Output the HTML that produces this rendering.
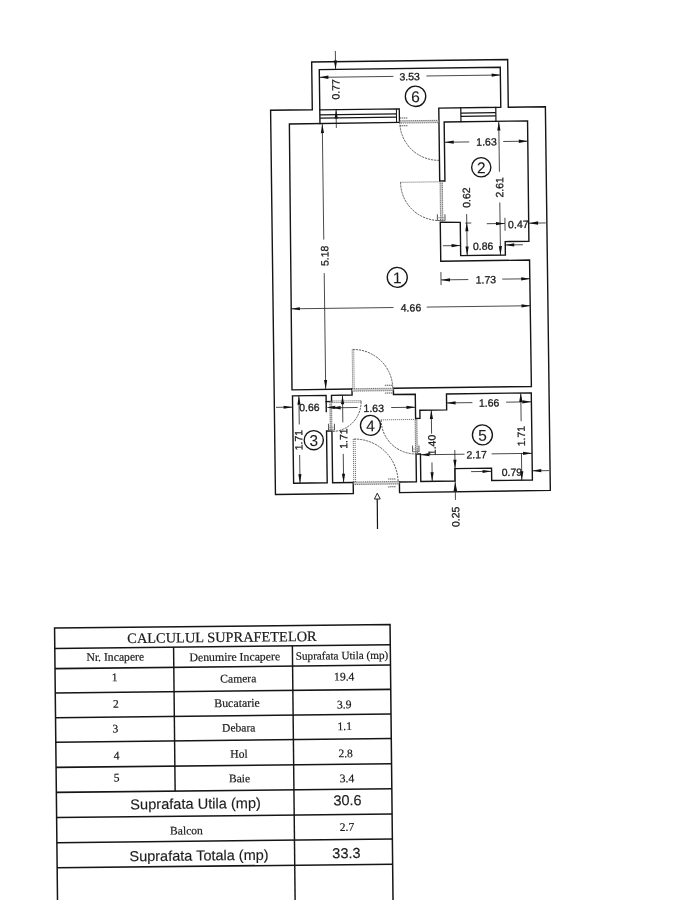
<!DOCTYPE html>
<html><head><meta charset="utf-8"><title>Plan</title>
<style>
html,body{margin:0;padding:0;background:#fff;}
body{width:681px;height:900px;overflow:hidden;position:relative;font-family:"Liberation Sans",sans-serif;}
svg{position:absolute;left:0;top:0;display:block;will-change:transform;transform:translateZ(0);}
text{white-space:pre;}
</style></head><body>
<svg width="681" height="900" viewBox="0 0 681 900">
<rect x="0" y="0" width="681" height="900" fill="#ffffff"/>
<g transform="rotate(-0.74 410 280)">
<path d="M350.6,481.8 L350.6,492.8 L272.7,492.8 L272.8,108.5 L314.5,108.5 L314.5,60.8 L510.5,60.8 L510.5,108.5 L547.6,108.5 L547.6,492.2 L396.8,492.5 L396.8,481.8" fill="none" stroke="#151515" stroke-width="1.4" stroke-linejoin="miter" stroke-linecap="square" />
<path d="M350.6,388.3 L290.6,388.3 L291.4,122.4 L401.5,122.3" fill="none" stroke="#151515" stroke-width="1.4" stroke-linejoin="miter" stroke-linecap="square" />
<path d="M322.0,122.3 L322.0,68.5 L503.0,68.5 L503.0,108.5 L441.0,108.5 L441.0,181.4 L446.2,181.4 L446.2,122.4 L529.6,122.4 L529.4,242.8 L505.7,242.8 L505.7,256.3 L461.0,256.3 L461.0,223.0 L441.0,222.5 L441.0,261.6 L529.8,261.6 L530.0,388.0 L392.0,388.0 L392.0,394.3 L413.8,394.3 L413.8,418.6 L418.2,418.4 L418.2,410.3 L445.0,410.3 L445.0,394.4 L529.8,394.4 L529.8,481.6 L489.1,481.6 L489.1,469.2 L452.4,469.2 L452.4,481.6 L418.2,481.6 L418.2,454.0 L413.8,454.0 L413.8,481.8 L396.8,481.8" fill="none" stroke="#151515" stroke-width="1.4" stroke-linejoin="miter" stroke-linecap="square" />
<path d="M322.0,108.7 L401.5,108.7 L401.5,122.3" fill="none" stroke="#151515" stroke-width="1.3" stroke-linejoin="miter" stroke-linecap="square" />
<line x1="322.0" y1="113.8" x2="399.0" y2="113.8" stroke="#151515" stroke-width="1.3" />
<line x1="322.0" y1="117.0" x2="399.0" y2="117.0" stroke="#151515" stroke-width="1.3" />
<line x1="398.6" y1="108.5" x2="398.6" y2="122.0" stroke="#151515" stroke-width="1.0" />
<path d="M463.0,108.5 L463.0,122.4" fill="none" stroke="#151515" stroke-width="1.2" stroke-linejoin="miter" stroke-linecap="square" />
<path d="M498.0,108.5 L498.0,122.4" fill="none" stroke="#151515" stroke-width="1.2" stroke-linejoin="miter" stroke-linecap="square" />
<line x1="463.0" y1="113.8" x2="498.0" y2="113.8" stroke="#151515" stroke-width="1.3" />
<line x1="463.0" y1="117.0" x2="498.0" y2="117.0" stroke="#151515" stroke-width="1.3" />
<path d="M330.0,400.5 L324.6,400.5" fill="none" stroke="#151515" stroke-width="1.4" stroke-linejoin="miter" stroke-linecap="square" />
<path d="M324.6,410.5 L324.6,394.3 L291.0,394.3 L291.0,481.7 L324.6,481.7 L324.6,429.9 L330.0,429.9 L330.0,481.8 L350.6,481.8" fill="none" stroke="#151515" stroke-width="1.4" stroke-linejoin="miter" stroke-linecap="square" />
<path d="M330.0,400.5 L330.0,394.3 L350.6,394.3 L350.6,388.0" fill="none" stroke="#151515" stroke-width="1.4" stroke-linejoin="miter" stroke-linecap="square" />
<rect x="401.8" y="120.7" width="39.0" height="2.3" fill="#d0d0d0" stroke="#555" stroke-width="0.8" stroke-dasharray="1.2 0.7"/>
<path d="M401.8,122.0 A38.7,38.7 0 0 0 440.5,160.7" fill="none" stroke="#4a4a4a" stroke-width="0.9" stroke-dasharray="2.2 0.9"/>
<line x1="401.8" y1="182.2" x2="440.5" y2="182.2" stroke="#5c5c5c" stroke-width="0.9" stroke-dasharray="1.1 0.9"/>
<path d="M401.8,182.2 A38.7,38.7 0 0 0 440.5,220.9" fill="none" stroke="#4a4a4a" stroke-width="0.9" stroke-dasharray="2.2 0.9"/>
<rect x="441.3" y="182.0" width="2.3" height="39.8" fill="#d0d0d0" stroke="#555" stroke-width="0.8" stroke-dasharray="1.2 0.7"/>
<line x1="351.3" y1="348.8" x2="351.3" y2="388.0" stroke="#5c5c5c" stroke-width="0.9" stroke-dasharray="1.1 0.9"/>
<line x1="352.8" y1="348.8" x2="352.8" y2="388.0" stroke="#5c5c5c" stroke-width="0.9" stroke-dasharray="1.1 0.9"/>
<path d="M351.8,348.7 A39.6,39.6 0 0 1 391.4,388.3" fill="none" stroke="#4a4a4a" stroke-width="0.9" stroke-dasharray="2.2 0.9"/>
<rect x="350.6" y="388.0" width="41.4" height="2.4" fill="#d0d0d0" stroke="#555" stroke-width="0.8" stroke-dasharray="1.2 0.7"/>
<line x1="330.0" y1="400.0" x2="359.5" y2="400.0" stroke="#5c5c5c" stroke-width="0.9" stroke-dasharray="1.1 0.9"/>
<line x1="330.0" y1="401.6" x2="359.5" y2="401.6" stroke="#5c5c5c" stroke-width="0.9" stroke-dasharray="1.1 0.9"/>
<line x1="359.5" y1="400.0" x2="359.5" y2="401.6" stroke="#5c5c5c" stroke-width="0.9" stroke-dasharray="1.1 0.9"/>
<path d="M359.5,401.0 A29.5,29.5 0 0 1 331.0,430.5" fill="none" stroke="#4a4a4a" stroke-width="0.9" stroke-dasharray="2.2 0.9"/>
<rect x="328.3" y="400.5" width="1.7" height="29.4" fill="#d0d0d0" stroke="#555" stroke-width="0.8" stroke-dasharray="1.2 0.7"/>
<line x1="379.3" y1="419.5" x2="413.8" y2="419.5" stroke="#5c5c5c" stroke-width="0.9" stroke-dasharray="1.1 0.9"/>
<path d="M379.3,419.5 A34.5,34.5 0 0 0 413.8,454.0" fill="none" stroke="#4a4a4a" stroke-width="0.9" stroke-dasharray="2.2 0.9"/>
<rect x="413.3" y="419.5" width="1.8" height="34.3" fill="#d0d0d0" stroke="#555" stroke-width="0.8" stroke-dasharray="1.2 0.7"/>
<line x1="351.2" y1="438.3" x2="351.2" y2="481.8" stroke="#5c5c5c" stroke-width="0.9" stroke-dasharray="1.1 0.9"/>
<line x1="353.0" y1="438.3" x2="353.0" y2="481.8" stroke="#5c5c5c" stroke-width="0.9" stroke-dasharray="1.1 0.9"/>
<path d="M352.0,438.3 A43.5,43.5 0 0 1 395.5,481.8" fill="none" stroke="#4a4a4a" stroke-width="0.9" stroke-dasharray="2.2 0.9"/>
<rect x="351.0" y="481.3" width="45.6" height="2.5" fill="#d0d0d0" stroke="#555" stroke-width="0.8" stroke-dasharray="1.2 0.7"/>
<line x1="402.0" y1="117.9" x2="410.0" y2="117.9" stroke="#555" stroke-width="1.0" stroke-dasharray="1.4 0.6"/>
<line x1="402.0" y1="125.7" x2="410.0" y2="125.7" stroke="#555" stroke-width="1.0" stroke-dasharray="1.4 0.6"/>
<line x1="438.2" y1="214.6" x2="438.2" y2="221.1" stroke="#555" stroke-width="1.0" />
<line x1="445.8" y1="214.6" x2="445.8" y2="221.1" stroke="#555" stroke-width="1.0" />
<line x1="438.2" y1="220.8" x2="445.8" y2="220.8" stroke="#666" stroke-width="0.9" />
<line x1="438.2" y1="218.1" x2="445.8" y2="218.1" stroke="#888" stroke-width="0.7" />
<line x1="383.5" y1="385.0" x2="391.5" y2="385.0" stroke="#555" stroke-width="1.0" stroke-dasharray="1.4 0.6"/>
<line x1="383.5" y1="392.8" x2="391.5" y2="392.8" stroke="#555" stroke-width="1.0" stroke-dasharray="1.4 0.6"/>
<line x1="326.6" y1="422.7" x2="326.6" y2="429.2" stroke="#555" stroke-width="1.0" />
<line x1="332.6" y1="422.7" x2="332.6" y2="429.2" stroke="#555" stroke-width="1.0" />
<line x1="326.6" y1="428.9" x2="332.6" y2="428.9" stroke="#666" stroke-width="0.9" />
<line x1="326.6" y1="426.2" x2="332.6" y2="426.2" stroke="#888" stroke-width="0.7" />
<line x1="410.4" y1="445.6" x2="410.4" y2="452.1" stroke="#555" stroke-width="1.0" />
<line x1="416.8" y1="445.6" x2="416.8" y2="452.1" stroke="#555" stroke-width="1.0" />
<line x1="410.4" y1="451.8" x2="416.8" y2="451.8" stroke="#666" stroke-width="0.9" />
<line x1="410.4" y1="449.1" x2="416.8" y2="449.1" stroke="#888" stroke-width="0.7" />
<line x1="385.5" y1="478.8" x2="393.5" y2="478.8" stroke="#555" stroke-width="1.0" stroke-dasharray="1.4 0.6"/>
<line x1="385.5" y1="486.6" x2="393.5" y2="486.6" stroke="#555" stroke-width="1.0" stroke-dasharray="1.4 0.6"/>
<line x1="322.0" y1="76.2" x2="396.0" y2="76.2" stroke="#1e1e1e" stroke-width="0.8" />
<line x1="429.0" y1="76.2" x2="503.3" y2="76.2" stroke="#1e1e1e" stroke-width="0.8" />
<polygon points="322.0,76.2 331.0,74.5 331.0,77.9" fill="#111"/>
<polygon points="503.3,76.2 494.3,77.9 494.3,74.5" fill="#111"/>
<text x="412.3" y="76.3" font-family="Liberation Sans" font-size="10.5" fill="#1c1c1c" stroke="#1c1c1c" stroke-width="0.3" text-anchor="middle" dominant-baseline="central" >3.53</text>
<line x1="338.3" y1="50.0" x2="338.3" y2="68.5" stroke="#1e1e1e" stroke-width="0.8" />
<polygon points="338.3,68.5 336.7,59.5 339.9,59.5" fill="#111"/>
<line x1="338.3" y1="108.5" x2="338.3" y2="127.0" stroke="#1e1e1e" stroke-width="0.8" />
<polygon points="338.3,108.5 339.9,117.5 336.7,117.5" fill="#111"/>
<text x="337.9" y="88.5" font-family="Liberation Sans" font-size="10.5" fill="#1c1c1c" stroke="#1c1c1c" stroke-width="0.3" text-anchor="middle" dominant-baseline="central" transform="rotate(-90 337.9 88.5)" >0.77</text>
<circle cx="417.9" cy="96.4" r="10.2" fill="none" stroke="#151515" stroke-width="1.35"/>
<text x="417.9" y="96.8" font-family="Liberation Sans" font-size="15.5" fill="#1c1c1c" stroke="#1c1c1c" stroke-width="0.1" text-anchor="middle" dominant-baseline="central" >6</text>
<line x1="446.5" y1="142.7" x2="471.0" y2="142.7" stroke="#1e1e1e" stroke-width="0.8" />
<line x1="505.0" y1="142.7" x2="529.8" y2="142.7" stroke="#1e1e1e" stroke-width="0.8" />
<polygon points="446.5,142.7 455.5,141.0 455.5,144.3" fill="#111"/>
<polygon points="529.6,142.7 520.6,144.3 520.6,141.0" fill="#111"/>
<text x="488.3" y="142.5" font-family="Liberation Sans" font-size="10.5" fill="#1c1c1c" stroke="#1c1c1c" stroke-width="0.3" text-anchor="middle" dominant-baseline="central" >1.63</text>
<line x1="500.8" y1="122.7" x2="500.8" y2="172.9" stroke="#1e1e1e" stroke-width="0.8" />
<line x1="500.8" y1="203.7" x2="500.8" y2="256.3" stroke="#1e1e1e" stroke-width="0.8" />
<polygon points="500.8,122.7 502.4,131.7 499.2,131.7" fill="#111"/>
<polygon points="500.8,256.3 499.2,247.3 502.4,247.3" fill="#111"/>
<text x="500.4" y="188.6" font-family="Liberation Sans" font-size="10.5" fill="#1c1c1c" stroke="#1c1c1c" stroke-width="0.3" text-anchor="middle" dominant-baseline="central" transform="rotate(-90 500.4 188.6)" >2.61</text>
<line x1="467.5" y1="214.8" x2="467.5" y2="256.3" stroke="#1e1e1e" stroke-width="0.8" />
<polygon points="467.5,223.0 469.1,232.0 465.9,232.0" fill="#111"/>
<polygon points="467.5,256.3 465.9,247.3 469.1,247.3" fill="#111"/>
<line x1="466.0" y1="223.8" x2="472.0" y2="223.8" stroke="#1e1e1e" stroke-width="0.8" />
<text x="467.2" y="198.3" font-family="Liberation Sans" font-size="10.5" fill="#1c1c1c" stroke="#1c1c1c" stroke-width="0.3" text-anchor="middle" dominant-baseline="central" transform="rotate(-90 467.2 198.3)" >0.62</text>
<circle cx="482.7" cy="168.2" r="9.6" fill="none" stroke="#151515" stroke-width="1.35"/>
<text x="482.7" y="168.6" font-family="Liberation Sans" font-size="15.5" fill="#1c1c1c" stroke="#1c1c1c" stroke-width="0.1" text-anchor="middle" dominant-baseline="central" >2</text>
<line x1="487.5" y1="224.7" x2="505.7" y2="224.7" stroke="#1e1e1e" stroke-width="0.8" />
<polygon points="505.7,224.7 496.7,226.3 496.7,223.0" fill="#111"/>
<line x1="505.7" y1="219.0" x2="505.7" y2="232.0" stroke="#1e1e1e" stroke-width="0.8" />
<line x1="529.8" y1="224.7" x2="546.5" y2="224.7" stroke="#1e1e1e" stroke-width="0.8" />
<polygon points="529.8,224.7 538.8,223.0 538.8,226.3" fill="#111"/>
<text x="519.0" y="225.5" font-family="Liberation Sans" font-size="10.5" fill="#1c1c1c" stroke="#1c1c1c" stroke-width="0.3" text-anchor="middle" dominant-baseline="central" >0.47</text>
<line x1="443.4" y1="246.2" x2="461.0" y2="246.2" stroke="#1e1e1e" stroke-width="0.8" />
<polygon points="461.0,246.2 452.0,247.8 452.0,244.5" fill="#111"/>
<line x1="505.7" y1="246.2" x2="523.3" y2="246.2" stroke="#1e1e1e" stroke-width="0.8" />
<polygon points="505.7,246.2 514.7,244.5 514.7,247.8" fill="#111"/>
<text x="483.5" y="246.8" font-family="Liberation Sans" font-size="10.5" fill="#1c1c1c" stroke="#1c1c1c" stroke-width="0.3" text-anchor="middle" dominant-baseline="central" >0.86</text>
<line x1="441.0" y1="280.3" x2="468.3" y2="280.3" stroke="#1e1e1e" stroke-width="0.8" />
<line x1="502.2" y1="280.3" x2="530.2" y2="280.3" stroke="#1e1e1e" stroke-width="0.8" />
<polygon points="441.0,280.3 450.0,278.7 450.0,281.9" fill="#111"/>
<polygon points="530.2,280.3 521.2,281.9 521.2,278.7" fill="#111"/>
<line x1="441.0" y1="272.5" x2="441.0" y2="285.5" stroke="#1e1e1e" stroke-width="0.8" />
<text x="485.8" y="280.4" font-family="Liberation Sans" font-size="10.5" fill="#1c1c1c" stroke="#1c1c1c" stroke-width="0.3" text-anchor="middle" dominant-baseline="central" >1.73</text>
<line x1="324.3" y1="122.0" x2="324.3" y2="238.5" stroke="#1e1e1e" stroke-width="0.8" />
<line x1="324.3" y1="272.0" x2="324.3" y2="388.0" stroke="#1e1e1e" stroke-width="0.8" />
<polygon points="324.3,123.0 325.9,132.0 322.7,132.0" fill="#111"/>
<polygon points="324.3,388.0 322.7,379.0 325.9,379.0" fill="#111"/>
<text x="324.7" y="254.8" font-family="Liberation Sans" font-size="10.5" fill="#1c1c1c" stroke="#1c1c1c" stroke-width="0.3" text-anchor="middle" dominant-baseline="central" transform="rotate(-90 324.7 254.8)" >5.18</text>
<circle cx="397.3" cy="277.2" r="10" fill="none" stroke="#151515" stroke-width="1.35"/>
<text x="397.3" y="277.6" font-family="Liberation Sans" font-size="15.5" fill="#1c1c1c" stroke="#1c1c1c" stroke-width="0.1" text-anchor="middle" dominant-baseline="central" >1</text>
<line x1="290.5" y1="307.3" x2="393.1" y2="307.3" stroke="#1e1e1e" stroke-width="0.8" />
<line x1="426.4" y1="307.3" x2="530.2" y2="307.3" stroke="#1e1e1e" stroke-width="0.8" />
<polygon points="290.5,307.3 299.5,305.7 299.5,308.9" fill="#111"/>
<polygon points="530.2,307.3 521.2,308.9 521.2,305.7" fill="#111"/>
<text x="410.6" y="307.4" font-family="Liberation Sans" font-size="10.5" fill="#1c1c1c" stroke="#1c1c1c" stroke-width="0.3" text-anchor="middle" dominant-baseline="central" >4.66</text>
<line x1="274.4" y1="405.6" x2="291.0" y2="405.6" stroke="#1e1e1e" stroke-width="0.8" />
<polygon points="291.0,405.6 282.0,407.2 282.0,404.0" fill="#111"/>
<text x="307.8" y="405.8" font-family="Liberation Sans" font-size="10.5" fill="#1c1c1c" stroke="#1c1c1c" stroke-width="0.3" text-anchor="middle" dominant-baseline="central" >0.66</text>
<polygon points="324.6,406.4 333.6,404.7 333.6,408.1" fill="#111"/>
<polygon points="330.0,406.8 339.0,405.1 339.0,408.5" fill="#111"/>
<line x1="330.0" y1="406.8" x2="356.0" y2="406.8" stroke="#1e1e1e" stroke-width="0.8" />
<line x1="389.5" y1="407.3" x2="413.8" y2="407.3" stroke="#1e1e1e" stroke-width="0.8" />
<polygon points="413.8,407.3 404.8,408.9 404.8,405.7" fill="#111"/>
<text x="372.1" y="407.5" font-family="Liberation Sans" font-size="10.5" fill="#1c1c1c" stroke="#1c1c1c" stroke-width="0.3" text-anchor="middle" dominant-baseline="central" >1.63</text>
<line x1="297.4" y1="394.3" x2="297.4" y2="423.0" stroke="#1e1e1e" stroke-width="0.8" />
<line x1="297.4" y1="453.5" x2="297.4" y2="481.7" stroke="#1e1e1e" stroke-width="0.8" />
<polygon points="297.4,394.3 299.0,403.3 295.8,403.3" fill="#111"/>
<polygon points="297.4,481.7 295.8,472.7 299.0,472.7" fill="#111"/>
<text x="296.2" y="438.6" font-family="Liberation Sans" font-size="10.5" fill="#1c1c1c" stroke="#1c1c1c" stroke-width="0.3" text-anchor="middle" dominant-baseline="central" transform="rotate(-90 296.2 438.6)" >1.71</text>
<line x1="341.0" y1="394.3" x2="341.0" y2="421.5" stroke="#1e1e1e" stroke-width="0.8" />
<line x1="341.0" y1="453.0" x2="341.0" y2="481.8" stroke="#1e1e1e" stroke-width="0.8" />
<polygon points="341.0,394.3 342.6,403.3 339.4,403.3" fill="#111"/>
<polygon points="341.0,481.8 339.4,472.8 342.6,472.8" fill="#111"/>
<text x="341.2" y="437.7" font-family="Liberation Sans" font-size="10.5" fill="#1c1c1c" stroke="#1c1c1c" stroke-width="0.3" text-anchor="middle" dominant-baseline="central" transform="rotate(-90 341.2 437.7)" >1.71</text>
<circle cx="311.7" cy="438.9" r="9.6" fill="none" stroke="#151515" stroke-width="1.35"/>
<text x="311.7" y="439.3" font-family="Liberation Sans" font-size="15.5" fill="#1c1c1c" stroke="#1c1c1c" stroke-width="0.1" text-anchor="middle" dominant-baseline="central" >3</text>
<circle cx="368.6" cy="424.9" r="10.0" fill="none" stroke="#151515" stroke-width="1.35"/>
<text x="368.6" y="425.3" font-family="Liberation Sans" font-size="15.5" fill="#1c1c1c" stroke="#1c1c1c" stroke-width="0.1" text-anchor="middle" dominant-baseline="central" >4</text>
<line x1="445.0" y1="403.4" x2="470.8" y2="403.4" stroke="#1e1e1e" stroke-width="0.8" />
<line x1="504.5" y1="403.4" x2="529.8" y2="403.4" stroke="#1e1e1e" stroke-width="0.8" />
<polygon points="445.0,403.4 454.0,401.8 454.0,405.0" fill="#111"/>
<polygon points="529.8,403.4 520.8,405.0 520.8,401.8" fill="#111"/>
<text x="487.5" y="403.6" font-family="Liberation Sans" font-size="10.5" fill="#1c1c1c" stroke="#1c1c1c" stroke-width="0.3" text-anchor="middle" dominant-baseline="central" >1.66</text>
<line x1="519.3" y1="394.4" x2="519.3" y2="422.6" stroke="#1e1e1e" stroke-width="0.8" />
<line x1="519.2" y1="454.5" x2="519.2" y2="481.6" stroke="#1e1e1e" stroke-width="0.8" />
<polygon points="519.3,394.4 520.9,403.4 517.6,403.4" fill="#111"/>
<polygon points="519.2,481.6 517.6,472.6 520.9,472.6" fill="#111"/>
<text x="518.9" y="437.5" font-family="Liberation Sans" font-size="10.5" fill="#1c1c1c" stroke="#1c1c1c" stroke-width="0.3" text-anchor="middle" dominant-baseline="central" transform="rotate(-90 518.9 437.5)" >1.71</text>
<line x1="418.2" y1="454.9" x2="462.2" y2="454.9" stroke="#1e1e1e" stroke-width="0.8" />
<line x1="489.4" y1="454.9" x2="529.8" y2="454.9" stroke="#1e1e1e" stroke-width="0.8" />
<polygon points="418.2,454.9 427.2,453.2 427.2,456.6" fill="#111"/>
<polygon points="529.8,454.9 520.8,456.5 520.8,453.2" fill="#111"/>
<text x="474.4" y="455.1" font-family="Liberation Sans" font-size="10.5" fill="#1c1c1c" stroke="#1c1c1c" stroke-width="0.3" text-anchor="middle" dominant-baseline="central" >2.17</text>
<line x1="429.6" y1="410.3" x2="429.6" y2="434.0" stroke="#1e1e1e" stroke-width="0.8" />
<line x1="429.6" y1="462.7" x2="429.6" y2="481.6" stroke="#1e1e1e" stroke-width="0.8" />
<polygon points="429.6,410.3 431.2,419.3 428.0,419.3" fill="#111"/>
<polygon points="429.6,481.6 428.0,472.6 431.2,472.6" fill="#111"/>
<text x="429.5" y="445.3" font-family="Liberation Sans" font-size="10.5" fill="#1c1c1c" stroke="#1c1c1c" stroke-width="0.3" text-anchor="middle" dominant-baseline="central" transform="rotate(-90 429.5 445.3)" >1.40</text>
<line x1="468.6" y1="472.4" x2="489.1" y2="472.4" stroke="#1e1e1e" stroke-width="0.8" />
<polygon points="489.1,472.4 480.1,474.0 480.1,470.8" fill="#111"/>
<line x1="529.8" y1="472.4" x2="546.5" y2="472.4" stroke="#1e1e1e" stroke-width="0.8" />
<polygon points="529.8,472.4 538.8,470.8 538.8,474.0" fill="#111"/>
<text x="509.4" y="473.2" font-family="Liberation Sans" font-size="10.5" fill="#1c1c1c" stroke="#1c1c1c" stroke-width="0.3" text-anchor="middle" dominant-baseline="central" >0.79</text>
<circle cx="480.4" cy="435.8" r="10" fill="none" stroke="#151515" stroke-width="1.35"/>
<text x="480.4" y="436.2" font-family="Liberation Sans" font-size="15.5" fill="#1c1c1c" stroke="#1c1c1c" stroke-width="0.1" text-anchor="middle" dominant-baseline="central" >5</text>
<line x1="452.6" y1="450.6" x2="452.6" y2="500.5" stroke="#1e1e1e" stroke-width="0.8" />
<polygon points="452.6,482.3 454.4,491.8 450.8,491.8" fill="#111"/>
<polygon points="452.6,469.4 451.0,460.4 454.2,460.4" fill="#111"/>
<text x="452.3" y="517.4" font-family="Liberation Sans" font-size="10.5" fill="#1c1c1c" stroke="#1c1c1c" stroke-width="0.3" text-anchor="middle" dominant-baseline="central" transform="rotate(-90 452.3 517.4)" >0.25</text>
<line x1="374.4" y1="498.5" x2="374.3" y2="528.5" stroke="#111" stroke-width="1.2" />
<polygon points="374.5,492.8 371.6,498.6 377.4,498.6" fill="#fff" stroke="#111" stroke-width="0.9"/>
</g>
<g transform="rotate(-0.62 222 760)">
<path d="M56.0,905 L56.0,626.3 L391.5,626.3 L391.5,905" fill="none" stroke="#151515" stroke-width="1.5"/>
<line x1="56.0" y1="646.6" x2="391.5" y2="646.6" stroke="#151515" stroke-width="1.55" />
<line x1="56.0" y1="666.8" x2="391.5" y2="666.8" stroke="#151515" stroke-width="1.55" />
<line x1="56.0" y1="691.2" x2="391.5" y2="691.2" stroke="#151515" stroke-width="1.55" />
<line x1="56.0" y1="715.9" x2="391.5" y2="715.9" stroke="#151515" stroke-width="1.55" />
<line x1="56.0" y1="740.4" x2="391.5" y2="740.4" stroke="#151515" stroke-width="1.55" />
<line x1="56.0" y1="765.6" x2="391.5" y2="765.6" stroke="#151515" stroke-width="1.55" />
<line x1="56.0" y1="790.6" x2="391.5" y2="790.6" stroke="#151515" stroke-width="1.55" />
<line x1="56.0" y1="815.8" x2="391.5" y2="815.8" stroke="#151515" stroke-width="1.55" />
<line x1="56.0" y1="840.9" x2="391.5" y2="840.9" stroke="#151515" stroke-width="1.55" />
<line x1="56.0" y1="866.0" x2="391.5" y2="866.0" stroke="#151515" stroke-width="1.55" />
<line x1="174.8" y1="646.6" x2="174.8" y2="790.6" stroke="#151515" stroke-width="1.45" />
<line x1="293.6" y1="646.6" x2="293.6" y2="905.0" stroke="#151515" stroke-width="1.45" />
<text x="223.3" y="637.0" font-family="Liberation Serif" font-size="14.4" fill="#1c1c1c" stroke="#1c1c1c" stroke-width="0.2" text-anchor="middle" dominant-baseline="central" >CALCULUL SUPRAFETELOR</text>
<text x="116.4" y="656.1" font-family="Liberation Serif" font-size="11.7" fill="#1c1c1c" stroke="#1c1c1c" stroke-width="0.2" text-anchor="middle" dominant-baseline="central" >Nr. Incapere</text>
<text x="235.9" y="656.9" font-family="Liberation Serif" font-size="11.8" fill="#1c1c1c" stroke="#1c1c1c" stroke-width="0.2" text-anchor="middle" dominant-baseline="central" >Denumire Incapere</text>
<text x="343.1" y="656.6" font-family="Liberation Serif" font-size="11.2" fill="#1c1c1c" stroke="#1c1c1c" stroke-width="0.2" text-anchor="middle" dominant-baseline="central" >Suprafata Utila (mp)</text>
<text x="115.4" y="676.6" font-family="Liberation Serif" font-size="11.6" fill="#1c1c1c" stroke="#1c1c1c" stroke-width="0.2" text-anchor="middle" dominant-baseline="central" >1</text>
<text x="239.2" y="679.1" font-family="Liberation Serif" font-size="11.6" fill="#1c1c1c" stroke="#1c1c1c" stroke-width="0.2" text-anchor="middle" dominant-baseline="central" >Camera</text>
<text x="345.1" y="678.3" font-family="Liberation Serif" font-size="11.6" fill="#1c1c1c" stroke="#1c1c1c" stroke-width="0.2" text-anchor="middle" dominant-baseline="central" >19.4</text>
<text x="116.5" y="703.2" font-family="Liberation Serif" font-size="11.6" fill="#1c1c1c" stroke="#1c1c1c" stroke-width="0.2" text-anchor="middle" dominant-baseline="central" >2</text>
<text x="237.6" y="703.1" font-family="Liberation Serif" font-size="11.9" fill="#1c1c1c" stroke="#1c1c1c" stroke-width="0.2" text-anchor="middle" dominant-baseline="central" >Bucatarie</text>
<text x="344.8" y="706.2" font-family="Liberation Serif" font-size="11.6" fill="#1c1c1c" stroke="#1c1c1c" stroke-width="0.2" text-anchor="middle" dominant-baseline="central" >3.9</text>
<text x="115.6" y="727.9" font-family="Liberation Serif" font-size="11.6" fill="#1c1c1c" stroke="#1c1c1c" stroke-width="0.2" text-anchor="middle" dominant-baseline="central" >3</text>
<text x="239.1" y="728.2" font-family="Liberation Serif" font-size="11.6" fill="#1c1c1c" stroke="#1c1c1c" stroke-width="0.2" text-anchor="middle" dominant-baseline="central" >Debara</text>
<text x="345.1" y="727.9" font-family="Liberation Serif" font-size="11.6" fill="#1c1c1c" stroke="#1c1c1c" stroke-width="0.2" text-anchor="middle" dominant-baseline="central" >1.1</text>
<text x="116.7" y="754.8" font-family="Liberation Serif" font-size="11.6" fill="#1c1c1c" stroke="#1c1c1c" stroke-width="0.2" text-anchor="middle" dominant-baseline="central" >4</text>
<text x="239.1" y="754.4" font-family="Liberation Serif" font-size="11.6" fill="#1c1c1c" stroke="#1c1c1c" stroke-width="0.2" text-anchor="middle" dominant-baseline="central" >Hol</text>
<text x="345.7" y="755.0" font-family="Liberation Serif" font-size="11.6" fill="#1c1c1c" stroke="#1c1c1c" stroke-width="0.2" text-anchor="middle" dominant-baseline="central" >2.8</text>
<text x="116.5" y="776.8" font-family="Liberation Serif" font-size="11.6" fill="#1c1c1c" stroke="#1c1c1c" stroke-width="0.2" text-anchor="middle" dominant-baseline="central" >5</text>
<text x="239.3" y="778.9" font-family="Liberation Serif" font-size="11.6" fill="#1c1c1c" stroke="#1c1c1c" stroke-width="0.2" text-anchor="middle" dominant-baseline="central" >Baie</text>
<text x="346.8" y="780.1" font-family="Liberation Serif" font-size="11.6" fill="#1c1c1c" stroke="#1c1c1c" stroke-width="0.2" text-anchor="middle" dominant-baseline="central" >3.4</text>
<text x="195.1" y="803.4" font-family="Liberation Sans" font-size="14.6" fill="#1c1c1c" stroke="#1c1c1c" stroke-width="0.15" text-anchor="middle" dominant-baseline="central" >Suprafata Utila (mp)</text>
<text x="347.1" y="801.6" font-family="Liberation Sans" font-size="14.5" fill="#1c1c1c" stroke="#1c1c1c" stroke-width="0.15" text-anchor="middle" dominant-baseline="central" >30.6</text>
<text x="185.7" y="830.5" font-family="Liberation Serif" font-size="11.6" fill="#1c1c1c" stroke="#1c1c1c" stroke-width="0.2" text-anchor="middle" dominant-baseline="central" >Balcon</text>
<text x="346.3" y="828.7" font-family="Liberation Serif" font-size="11.6" fill="#1c1c1c" stroke="#1c1c1c" stroke-width="0.2" text-anchor="middle" dominant-baseline="central" >2.7</text>
<text x="198.0" y="855.3" font-family="Liberation Sans" font-size="14.5" fill="#1c1c1c" stroke="#1c1c1c" stroke-width="0.15" text-anchor="middle" dominant-baseline="central" >Suprafata Totala (mp)</text>
<text x="345.4" y="854.5" font-family="Liberation Sans" font-size="14.5" fill="#1c1c1c" stroke="#1c1c1c" stroke-width="0.15" text-anchor="middle" dominant-baseline="central" >33.3</text>
</g>
</svg>
</body></html>
